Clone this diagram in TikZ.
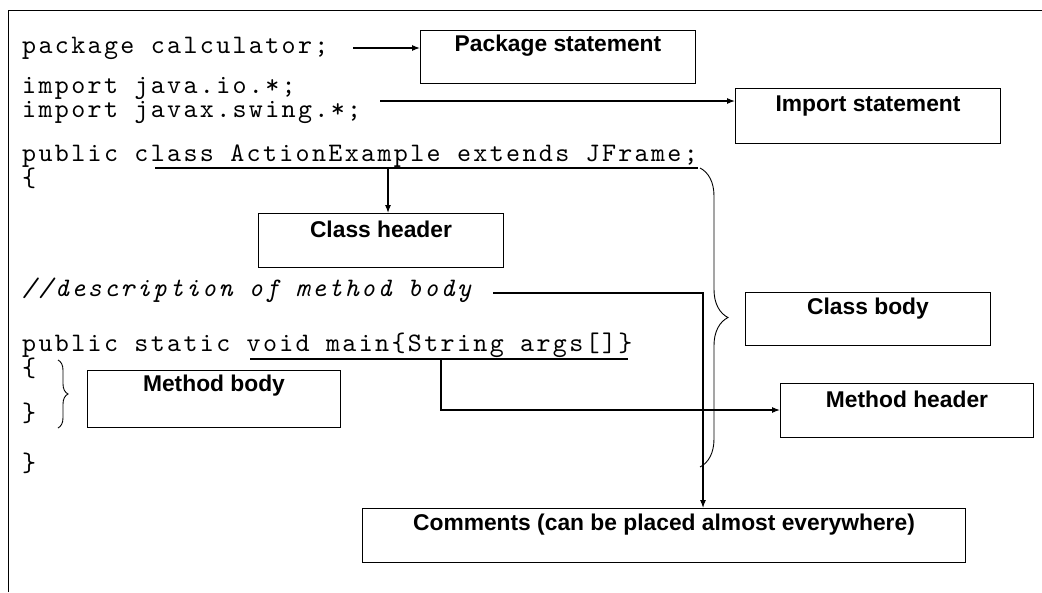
\documentclass[tikz,border=0pt]{standalone}
\usepackage{fontspec}
\setmainfont{Liberation Sans}
\setsansfont{Liberation Sans}
\newfontfamily\codefamily{lmmono10-regular}[Extension=.otf, ItalicFont=lmmono10-italic, LetterSpace=8.8]
\usetikzlibrary{arrows.meta,decorations.pathreplacing}
\newcommand{\codefnt}{\fontsize{26.7}{30}\selectfont\codefamily}
\begin{document}
\begin{tikzpicture}[x=1pt,y=-1pt,
  code/.style={font=\codefnt, anchor=mid west, inner sep=0pt},
  codeit/.style={code, font=\codefnt\itshape},
  box/.style={draw, line width=1pt, inner sep=0pt, anchor=north west},
  lbl/.style={font=\fontsize{22.8}{26}\selectfont\sffamily\bfseries, inner sep=0pt},
  conn/.style={line width=1.1pt},
  arr/.style={conn, -{Latex[length=8pt,width=6pt]}},
  brc/.style={decorate, decoration={brace, amplitude=#1}, line width=0.9pt}
]
\useasboundingbox (0,0) rectangle (1042,592);

% frame
\coordinate (f1) at (8,592);
\coordinate (f2) at (8,10);
\coordinate (f3) at (1042,10);
\draw[line width=1pt] (f1) -- (f2) -- (f3);

% code lines
\node[code] (l1) at (22,51) {package calculator;};
\node[code] (l2) at (22,91) {import java.io.*;};
\node[code] (l3) at (22,115) {import javax.swing.*;};
\node[code] (l4) at (22,159) {public class ActionExample extends JFrame;};
\node[code] (l5) at (22,184) {\{};
\node[codeit] (l6) at (22,294) {//description of method body};
\node[code] (l7) at (22,349) {public static void main\{String args[]\}};
\node[code] (l8) at (22,374) {\{};
\node[code] (l9) at (22,419) {\}};
\node[code] (l10) at (22,469) {\}};

% boxes
\node[box, minimum width=275, minimum height=53] (pkgbox) at (420,30) {};
\node[lbl] (pkgtxt) at ([yshift=-16pt]pkgbox.north) {Package statement};
\node[box, minimum width=265, minimum height=55] (impbox) at (735,88) {};
\node[lbl] (imptxt) at ([yshift=-18pt]impbox.north) {Import statement};
\node[box, minimum width=245, minimum height=54] (chbox) at (258,213) {};
\node[lbl] (chtxt) at ([yshift=-16pt]chbox.north) {Class header};
\node[box, minimum width=245, minimum height=53] (cbbox) at (745,292) {};
\node[lbl] (cbtxt) at ([yshift=-17pt]cbbox.north) {Class body};
\node[box, minimum width=253, minimum height=57] (mbbox) at (87,370) {};
\node[lbl] (mbtxt) at ([yshift=-16pt]mbbox.north) {Method body};
\node[box, minimum width=253, minimum height=54] (mhbox) at (780,383) {};
\node[lbl] (mhtxt) at ([yshift=-16pt]mhbox.north) {Method header};
\node[box, minimum width=603, minimum height=54] (combox) at (362,508) {};
\node[lbl] (comtxt) at ([yshift=-17pt]combox.north) {Comments (can be placed almost everywhere)};

% package arrow
\coordinate (p1) at (353,48);
\draw[arr] (p1) -- (p1 -| pkgbox.west);
% import arrow
\coordinate (i1) at (380,101);
\draw[arr] (i1) -- (i1 -| impbox.west);
% class header
\coordinate (ch1) at (155,168);
\coordinate (ch2) at (698,168);
\coordinate (ch3) at (388,168);
\draw[conn] (ch1) -- (ch2);
\draw[arr] (ch3) -- (ch3 |- chbox.north);
% comments
\coordinate (c1) at (493,293);
\coordinate (c2) at (703,293);
\draw[arr] (c1) -- (c2) -- (c2 |- combox.north);
% method header
\coordinate (m1) at (250,359);
\coordinate (m2) at (628,359);
\coordinate (m3) at (441,359);
\coordinate (m4) at (441,410);
\draw[conn] (m1) -- (m2);
\draw[arr] (m3) -- (m4) -- (m4 -| mhbox.west);
% braces
\coordinate (b1) at (700,168);
\coordinate (b2) at (700,467);
\draw[brc=28pt] (b1) -- (b2);
\coordinate (b3) at (58,360);
\coordinate (b4) at (58,428);
\draw[brc=10pt] (b3) -- (b4);
\end{tikzpicture}
\end{document}
